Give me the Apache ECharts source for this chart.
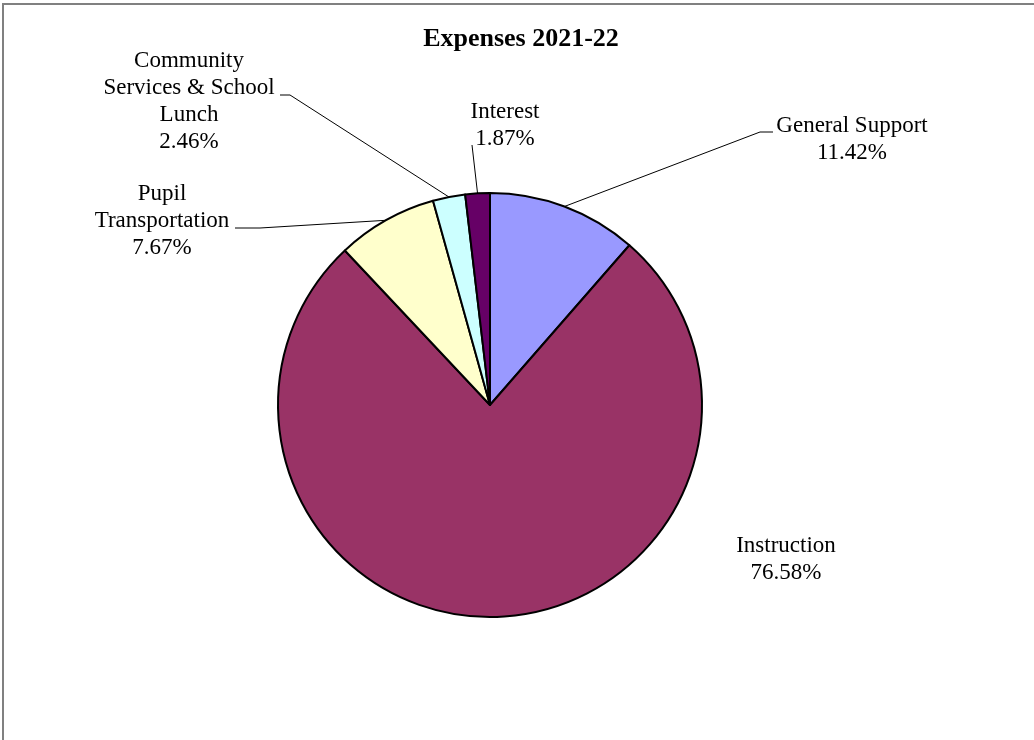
<!DOCTYPE html>
<html><head><meta charset="utf-8">
<script src="https://cdn.jsdelivr.net/npm/echarts@6/dist/echarts.min.js"></script>
<style>html,body{margin:0;padding:0;background:#fff}#c{width:1034px;height:740px}</style>
</head><body><div id="c"></div>
<script>
const categories = ['General Support', 'Instruction', 'Pupil Transportation', 'Community Services & School Lunch', 'Interest'];
const labelText = ['General Support', 'Instruction', 'Pupil\nTransportation', 'Community\nServices & School\nLunch', 'Interest'];
const values = [11.42, 76.58, 7.67, 2.46, 1.87];
const colors = ['#9999FF', '#993366', '#FFFFCC', '#CCFFFF', '#660066'];
const titleText = 'Expenses 2021-22';

// label layout (centres of label blocks and leader-line elbow/end points)
const labelCenters = [[852, 139], [786, 559], [162, 221], [189, 101], [505, 125]];
const leaderEnds = [[[760, 132], [773, 132]], null, [[260, 228], [235, 228]], [[290, 95], [280, 95]], [[472, 145], [472, 145]]];

const FONT = "'Liberation Serif', 'Times New Roman', serif";
const chart = echarts.init(document.getElementById('c'), null, {renderer: 'canvas'});

const data = categories.map((name, i) => ({
  name: name,
  value: values[i],
  itemStyle: {color: colors[i]},
  labelLine: {show: leaderEnds[i] !== null}
}));

chart.setOption({
  backgroundColor: '#ffffff',
  animation: false,
  graphic: [
    {type: 'rect', silent: true, z: -1, shape: {x: 3, y: 4, width: 1200, height: 1000},
     style: {fill: 'none', stroke: '#808080', lineWidth: 2}},
    {type: 'text', silent: true, x: 521, y: 39,
     style: {text: titleText, font: "bold 26px " + FONT, fill: '#000', textAlign: 'center', textVerticalAlign: 'middle'}}
  ],
  series: [{
    type: 'pie',
    center: [490, 405],
    radius: 212,
    startAngle: 90,
    clockwise: true,
    avoidLabelOverlap: false,
    emphasis: {disabled: true},
    itemStyle: {borderColor: '#000', borderWidth: 2},
    label: {
      show: true,
      position: 'outside',
      fontFamily: FONT,
      fontSize: 23,
      lineHeight: 27,
      color: '#000',
      align: 'center',
      formatter: p => labelText[p.dataIndex] + '\n' + p.value.toFixed(2) + '%'
    },
    labelLine: {show: true, length: 10, length2: 10, smooth: false, lineStyle: {color: '#000', width: 1}},
    labelLayout: function (params) {
      const i = params.dataIndex;
      const c = labelCenters[i];
      const res = {x: c[0], y: c[1], align: 'center', verticalAlign: 'middle'};
      if (leaderEnds[i] && params.labelLinePoints) {
        res.labelLinePoints = [params.labelLinePoints[0], leaderEnds[i][0], leaderEnds[i][1]];
      }
      return res;
    },
    data: data
  }]
});
</script></body></html>
